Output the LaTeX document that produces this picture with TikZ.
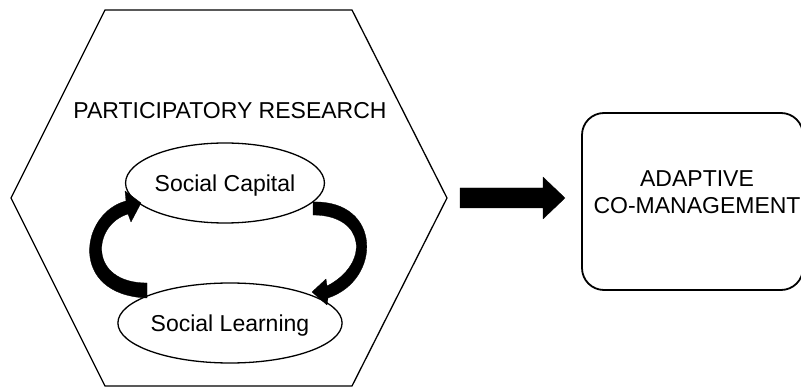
\documentclass[tikz,border=0pt]{standalone}
\usepackage{fontspec}
\setmainfont{Liberation Sans}
\usetikzlibrary{shapes.geometric}
\begin{document}
\begin{tikzpicture}[x=1pt,y=-1pt,
  lbl/.style={font=\fontsize{23}{27.5}\selectfont, inner sep=0pt},
  oval/.style={draw, ellipse, line width=1.3pt, inner sep=0pt, text depth=0pt,
    font=\fontsize{23}{27.5}\selectfont},
  blk/.style={fill=black, draw=black, line width=0.3pt, line join=round},
  edge/.style={line width=1.3pt, line join=miter}]
\useasboundingbox (0,0) rectangle (801,387);
% hexagon
\coordinate (h1) at (105,10);
\coordinate (h2) at (352,10);
\coordinate (h3) at (447,198);
\coordinate (h4) at (352,386);
\coordinate (h5) at (105,386);
\coordinate (h6) at (11,198);
\draw[edge] (h1) -- (h2) -- (h3) -- (h4) -- (h5) -- (h6) -- cycle;
\node[lbl, anchor=base] (title) at (230,118.5) {PARTICIPATORY RESEARCH};
% ovals
\node[oval, minimum width=176pt, minimum height=80pt] (cap) at (225,183) {Social Capital};
\node[oval, minimum width=184pt, minimum height=80pt] (learn) at (230,323) {Social Learning};
% curved arrow: learning -> capital (left)
\path[blk] (147,283) .. controls (88,283) and (92,225) .. (128,214)
  -- (131,222) -- (141,203) -- (125,191) -- (126,201)
  .. controls (80,213) and (68,295) .. (147,298) -- cycle;
% curved arrow: capital -> learning (right)
\path[blk] (313,202) .. controls (382,200) and (382,280) .. (328,298)
  -- (327,305) -- (312,292) -- (326,279) -- (327,286)
  .. controls (370,264) and (366,215) .. (313,215) -- cycle;
% big arrow
\path[blk] (460,188) -- (543,188) -- (543,177) -- (565,198) -- (543,219)
  -- (543,208) -- (460,208) -- cycle;
% adaptive co-management box
\node[draw, rounded corners=22pt, line width=1.8pt, minimum width=221pt,
  minimum height=177pt] (acm) at (692.5,201.5) {};
\node[lbl, align=center] (acmtext) at (697,192) {ADAPTIVE\\CO-MANAGEMENT};
\end{tikzpicture}
\end{document}
